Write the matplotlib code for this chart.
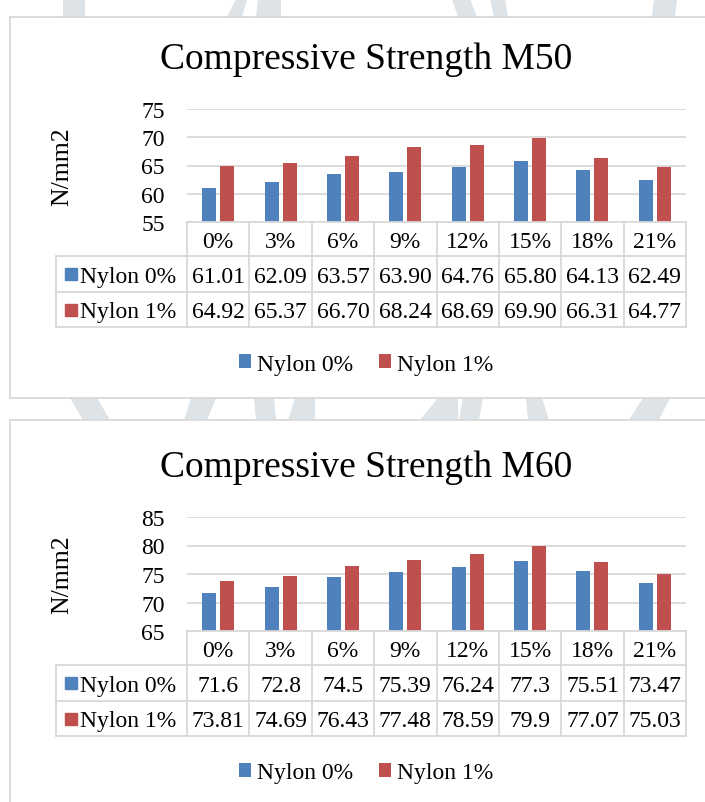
import matplotlib
matplotlib.use("Agg")
import matplotlib.pyplot as plt
from matplotlib import transforms as mtransforms
from matplotlib.patches import Rectangle, Polygon
from matplotlib.lines import Line2D

# ---- data -------------------------------------------------------------
categories = ["0%", "3%", "6%", "9%", "12%", "15%", "18%", "21%"]
series_names = ["Nylon 0%", "Nylon 1%"]

m50_nylon0 = [61.01, 62.09, 63.57, 63.90, 64.76, 65.80, 64.13, 62.49]
m50_nylon1 = [64.92, 65.37, 66.70, 68.24, 68.69, 69.90, 66.31, 64.77]

m60_nylon0 = [71.6, 72.8, 74.5, 75.39, 76.24, 77.3, 75.51, 73.47]
m60_nylon1 = [73.81, 74.69, 76.43, 77.48, 78.59, 79.9, 77.07, 75.03]

m50_ticks = [55, 60, 65, 70, 75]
m60_ticks = [65, 70, 75, 80, 85]

# ---- style ------------------------------------------------------------
BLUE = "#4F81BD"
RED = "#C0504D"
GRID = "#D9D9D9"
MARK = "#DDE3E6"
FONT = "Liberation Serif"
plt.rcParams["font.family"] = [FONT, "DejaVu Serif"]

W, H = 705, 803
fig = plt.figure(figsize=(W / 100, H / 100), dpi=100)
fig.patch.set_facecolor("white")

# pixel coordinates (origin top-left) -> figure
PX = mtransforms.Affine2D().scale(1 / W, -1 / H).translate(0, 1) + fig.transFigure

# faint page watermark strokes visible between the chart frames
top_strip = [
    [(63, 0), (85, 0), (85, 18), (63, 18)],
    [(236, 0), (247, 0), (242, 18), (227, 18)],
    [(258, 0), (281, 0), (281, 18), (256, 18)],
    [(452, 0), (470, 0), (477, 18), (458, 18)],
    [(490, 0), (505, 0), (508, 18), (494, 18)],
    [(654, 0), (677, 0), (675, 18), (652, 18)],
]
gap_strip = [
    [(70, 399), (97, 399), (110, 421), (83, 421)],
    [(191, 399), (216, 399), (207, 421), (184, 421)],
    [(254, 399), (274, 399), (276, 421), (256, 421)],
    [(295, 399), (315, 399), (315, 421), (288, 421)],
    [(438, 399), (458, 399), (458, 421), (420, 421)],
    [(463, 399), (483, 399), (479, 421), (459, 421)],
    [(526, 399), (542, 399), (549, 421), (528, 421)],
    [(643, 399), (670, 399), (659, 421), (629, 421)],
]
for pts in top_strip + gap_strip:
    fig.patches.append(Polygon(pts, closed=True, transform=PX,
                               facecolor=MARK, edgecolor="none", zorder=-3))


def draw_panel(frame, title_y, ax_top, ax_bot, title, s0, s1, ticks, fmt):
    row_edges = [ax_bot, ax_bot + 34, ax_bot + 70, ax_bot + 105]
    left_px, right_px = 187, 686
    label_left = 56

    # chart frame
    fig.patches.append(Rectangle((10, frame[0]), 720, frame[1] - frame[0],
                                 transform=PX, facecolor="white",
                                 edgecolor=GRID, lw=1.3, zorder=-2))
    fig.text(366, title_y, title, transform=PX, ha="center", va="center",
             fontsize=27)
    fig.text(62, (ax_top + ax_bot) / 2, "N/mm2", transform=PX, rotation=90,
             ha="center", va="center", fontsize=18.5)

    ax = fig.add_axes([left_px / W, 1 - ax_bot / H, (right_px - left_px) / W,
                       (ax_bot - ax_top) / H])
    ax.patch.set_alpha(0)
    x = list(range(len(categories)))
    off, bw = 0.145, 0.225
    b0 = ax.bar([i - off for i in x], s0, width=bw, color=BLUE,
                label=series_names[0], zorder=3)
    b1 = ax.bar([i + off for i in x], s1, width=bw, color=RED,
                label=series_names[1], zorder=3)
    ax.set_xlim(-0.5, len(categories) - 0.5)
    ax.set_ylim(ticks[0], ticks[-1])
    ax.set_yticks(ticks)
    ax.set_yticklabels([str(t) for t in ticks], fontsize=17)
    ax.tick_params(axis="y", length=0, pad=16)
    ax.set_xticks([])
    ax.grid(axis="y", color=GRID, lw=1.3, zorder=0)
    for sp in ax.spines.values():
        sp.set_visible(False)

    # data table under the plot
    bt = mtransforms.blended_transform_factory(ax.transData, PX)
    lw = 1.3
    fig.lines.append(Line2D([left_px, right_px], [row_edges[0]] * 2,
                            transform=PX, color=GRID, lw=lw))
    for y in row_edges[1:]:
        fig.lines.append(Line2D([label_left, right_px], [y, y], transform=PX,
                                color=GRID, lw=lw))
    fig.lines.append(Line2D([label_left, label_left],
                            [row_edges[1], row_edges[3]], transform=PX,
                            color=GRID, lw=lw))
    for i in range(len(categories) + 1):
        fig.lines.append(Line2D([i - 0.5, i - 0.5],
                                [row_edges[0], row_edges[3]], transform=bt,
                                color=GRID, lw=lw))
    hdr_y = (row_edges[0] + row_edges[1]) / 2
    for i, c in enumerate(categories):
        fig.text(i, hdr_y, c, transform=bt, ha="center",
                 va="center_baseline", fontsize=17)
    for r, (vals, name, col) in enumerate(zip([s0, s1], series_names,
                                              [BLUE, RED])):
        yc = (row_edges[r + 1] + row_edges[r + 2]) / 2
        fig.patches.append(Rectangle((65, yc - 6), 12, 12, transform=PX,
                                     color=col, zorder=2))
        fig.text(80, yc, name, transform=PX, ha="left",
                 va="center_baseline", fontsize=17)
        for i, v in enumerate(vals):
            fig.text(i, yc, fmt(v), transform=bt, ha="center",
                     va="center_baseline", fontsize=17)

    # legend
    leg_y = ax_bot + 142
    fig.legend(handles=[b0, b1], loc="center",
               bbox_to_anchor=(366 / W, 1 - leg_y / H), ncol=2, frameon=False,
               fontsize=17, handlelength=0.5, handleheight=0.5,
               handletextpad=0.25, columnspacing=1.1)


draw_panel((18, 399), 60, 110, 223, "Compressive Strength M50",
           m50_nylon0, m50_nylon1, m50_ticks, lambda v: f"{v:.2f}")
draw_panel((421, 840), 468, 518, 632, "Compressive Strength M60",
           m60_nylon0, m60_nylon1, m60_ticks, lambda v: f"{v:g}")

fig.savefig("out.png", dpi=100, facecolor="white")
